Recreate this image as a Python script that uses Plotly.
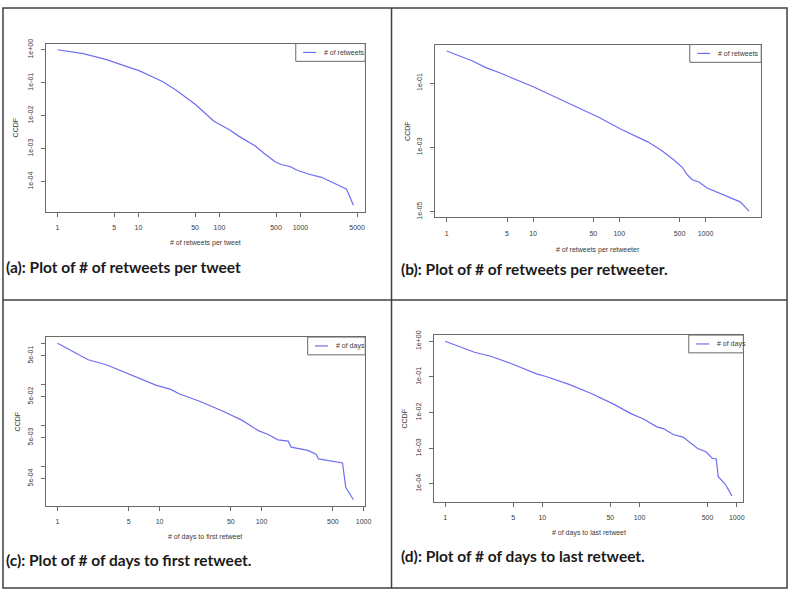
import plotly.graph_objects as go
import math

# ---------------- data ----------------
a_x = [1, 2.08, 4.03, 10.3, 16.5, 20.0, 29.0, 51.0, 85.5, 131, 173, 277, 367, 488,
       589, 745, 898, 1250, 1820, 2090, 2650, 3680, 3860, 4510]
a_y = [1, 0.759, 0.501, 0.229, 0.135, 0.107, 0.0603, 0.0214, 0.00676, 0.0038, 0.0024,
       0.0012, 0.000676, 0.000398, 0.000324, 0.000288, 0.000224, 0.00017, 0.000135,
       0.000115, 0.0000912, 0.0000603, 0.0000479, 0.0000191]

b_x = [1, 1.99, 2.83, 4.03, 9.75, 23.6, 56.9, 105, 214, 304, 432, 540, 615, 703, 837,
       1045, 1361, 1936, 2523, 3206]
b_y = [1, 0.486, 0.303, 0.213, 0.0794, 0.0267, 0.00879, 0.00366, 0.00149, 0.000828,
       0.000407, 0.000237, 0.000141, 0.0000989, 0.0000838, 0.0000547, 0.0000412,
       0.0000282, 0.0000203, 0.0000105]

c_x = [1, 1.43, 2.0, 3.01, 4.71, 9.2, 12.9, 15.5, 24.3, 42.5, 64.0, 77.1, 92.9, 116,
       145, 182, 195, 284, 342, 361, 479, 621, 668, 794]
c_y = [1, 0.63, 0.396, 0.30, 0.189, 0.0951, 0.0748, 0.0587, 0.0391, 0.0216, 0.0133,
       0.00975, 0.00738, 0.00592, 0.0044, 0.00408, 0.00292, 0.00243, 0.00195, 0.0015,
       0.00134, 0.0012, 0.000305, 0.000151]

d_x = [1, 1.36, 2.0, 2.94, 5.06, 8.69, 10.9, 18.8, 32.3, 55.3, 81.5, 111, 151, 176,
       222, 280, 353, 396, 481, 561, 615, 644, 764, 891]
d_y = [1, 0.724, 0.493, 0.381, 0.223, 0.122, 0.103, 0.0618, 0.0339, 0.0167, 0.00938,
       0.00652, 0.00398, 0.00357, 0.00243, 0.00205, 0.00128, 0.000989, 0.000798,
       0.00052, 0.000499, 0.00016, 0.0000979, 0.0000462]

x_ticks_a = [1, 5, 10, 50, 100, 500, 1000, 5000]
x_ticks_bcd = [1, 5, 10, 50, 100, 500, 1000]
y_ticks_a = [1, 0.1, 0.01, 0.001, 0.0001]
y_text_a = ["1e+00", "1e-01", "1e-02", "1e-03", "1e-04"]
y_ticks_b = [0.1, 0.001, 0.00001]
y_text_b = ["1e-01", "1e-03", "1e-05"]
y_ticks_c = [1, 0.5, 0.1, 0.05, 0.01, 0.005, 0.001, 0.0005]
y_text_c = ["", "5e-01", "", "5e-02", "", "5e-03", "", "5e-04"]
y_ticks_d = [1, 0.1, 0.01, 0.001, 0.0001]
y_text_d = ["1e+00", "1e-01", "1e-02", "1e-03", "1e-04"]

x_titles = ["# of retweets per tweet", "# of retweets per retweeter",
            "# of days to first retweet", "# of days to last retweet"]
legend_names = ["# of retweets", "# of retweets", "# of days", "# of days"]
captions = ["(a): Plot of # of retweets per tweet",
            "(b): Plot of # of retweets per retweeter.",
            "(c): Plot of # of days to first retweet.",
            "(d): Plot of # of days to last retweet."]

# ---------------- layout geometry (pixels) ----------------
W, H = 797, 595
LINE = "#6e6ef2"
AXC = "#6a6a6a"
TXT = "#3a3a3a"

def px(x):
    return x / W

def py(y):
    return 1 - y / H

# plot boxes: x0, x1, y0(top), y1(bottom)
boxes = [(46, 368, 39, 209), (438, 767, 40, 215), (46, 368, 336, 507), (437, 749, 334, 503)]
xtitle_y = [241, 248, 538, 534]
ylab_x = [16, 410, 18, 408]
cap_pos = [(4, 265), (402, 267), (4, 562), (402, 558)]
leg_w = [70, 72, 58, 55]
leg_h = 18

series = [(a_x, a_y), (b_x, b_y), (c_x, c_y), (d_x, d_y)]
xt = [x_ticks_a, x_ticks_bcd, x_ticks_bcd, x_ticks_bcd]
yt = [(y_ticks_a, y_text_a), (y_ticks_b, y_text_b), (y_ticks_c, y_text_c), (y_ticks_d, y_text_d)]

def rng(vals):
    lo, hi = math.log10(min(vals)), math.log10(max(vals))
    pad = 0.04 * (hi - lo)
    return [lo - pad, hi + pad]

fig = go.Figure()
layout = {}
shapes = []
annotations = []

for i in range(4):
    n = "" if i == 0 else str(i + 1)
    xs, ys = series[i]
    fig.add_trace(go.Scatter(x=xs, y=ys, mode="lines", line=dict(color=LINE, width=1.2),
                             xaxis="x" + n, yaxis="y" + n, showlegend=False,
                             name=legend_names[i]))
    x0, x1, y0, y1 = boxes[i]
    layout["xaxis" + n] = dict(
        domain=[px(x0), px(x1)], anchor="y" + n, type="log", range=rng(xs),
        tickvals=xt[i], ticktext=[str(v) for v in xt[i]],
        showline=True, mirror=True, linecolor=AXC, linewidth=1,
        ticks="outside", ticklen=4, tickcolor=AXC, tickwidth=1,
        showgrid=False, zeroline=False, ticklabelstandoff=5,
        tickfont=dict(family="Liberation Sans, Arial", size=7, color=TXT))
    layout["yaxis" + n] = dict(
        domain=[py(y1), py(y0)], anchor="x" + n, type="log", range=rng(ys),
        tickvals=yt[i][0], ticktext=yt[i][1], tickangle=-90,
        showline=True, mirror=True, linecolor=AXC, linewidth=1,
        ticks="outside", ticklen=4, tickcolor=AXC, tickwidth=1,
        showgrid=False, zeroline=False, ticklabelstandoff=5,
        tickfont=dict(family="Liberation Sans, Arial", size=7, color=TXT))
    # axis titles
    annotations.append(dict(x=px((x0 + x1) / 2), y=py(xtitle_y[i]), xref="paper", yref="paper",
                            text=x_titles[i], showarrow=False, xanchor="center", yanchor="middle",
                            font=dict(family="Liberation Sans, Arial", size=7, color=TXT)))
    annotations.append(dict(x=px(ylab_x[i]), y=py((y0 + y1) / 2), xref="paper", yref="paper",
                            text="CCDF", showarrow=False, textangle=-90, xanchor="center",
                            yanchor="middle",
                            font=dict(family="Liberation Sans, Arial", size=7, color=TXT)))
    # legend box
    lx0 = x1 - leg_w[i]
    shapes.append(dict(type="rect", xref="paper", yref="paper", x0=px(lx0), x1=px(x1),
                       y0=py(y0 + leg_h), y1=py(y0), line=dict(color=AXC, width=1),
                       fillcolor="white", layer="above"))
    shapes.append(dict(type="line", xref="paper", yref="paper", x0=px(lx0 + 7.5), x1=px(lx0 + 20.5),
                       y0=py(y0 + leg_h / 2), y1=py(y0 + leg_h / 2),
                       line=dict(color=LINE, width=1.2), layer="above"))
    annotations.append(dict(x=px(lx0 + 26.5), y=py(y0 + leg_h / 2), xref="paper", yref="paper",
                            text=legend_names[i], showarrow=False, xanchor="left", yanchor="middle",
                            font=dict(family="Liberation Sans, Arial", size=7, color=TXT)))
    # caption
    annotations.append(dict(x=px(cap_pos[i][0]), y=py(cap_pos[i][1]), xref="paper", yref="paper",
                            text="<b>" + captions[i] + "</b>", showarrow=False, xanchor="left",
                            yanchor="middle",
                            font=dict(family="Lato, Open Sans", size=15.5, color="#1a1a1a")))

# panel frame
FR = "#404040"
shapes.append(dict(type="rect", xref="paper", yref="paper", x0=px(3), x1=px(793), y0=py(590), y1=py(3),
                   line=dict(color=FR, width=1.5)))
shapes.append(dict(type="line", xref="paper", yref="paper", x0=px(394.5), x1=px(394.5), y0=py(590), y1=py(3),
                   line=dict(color=FR, width=1.5)))
shapes.append(dict(type="line", xref="paper", yref="paper", x0=px(3), x1=px(793), y0=py(298.5), y1=py(298.5),
                   line=dict(color=FR, width=1.5)))

fig.update_layout(width=W, height=H, margin=dict(l=0, r=0, t=0, b=0),
                  paper_bgcolor="white", plot_bgcolor="white",
                  shapes=shapes, annotations=annotations, **layout)

fig.write_html("out.html", config={"displayModeBar": False},
               post_script="document.body.style.margin='0';document.body.style.overflow='hidden';")
